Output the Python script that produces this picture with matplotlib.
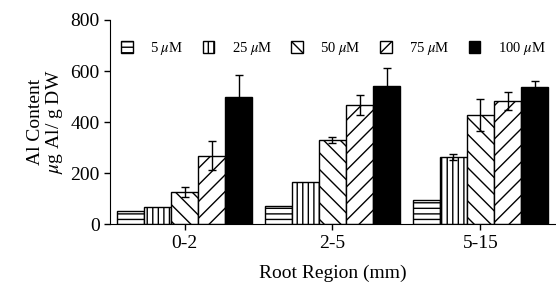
import numpy as np
import matplotlib.pyplot as plt

regions = ['0-2', '2-5', '5-15']
conc_labels = [r'5 $\mu$M', r'25 $\mu$M', r'50 $\mu$M', r'75 $\mu$M', r'100 $\mu$M']
hatches = ['---', '|||', '\\\\', '//', '']
colors = ['white', 'white', 'white', 'white', 'black']

# Al content (ug Al / g DW), one list per concentration, across root regions
al_5 = [53, 73, 95]
al_25 = [69, 166, 265]
al_50 = [125, 330, 428]
al_75 = [269, 467, 484]
al_100 = [497, 542, 539]

err_5 = [0, 0, 0]
err_25 = [0, 0, 12]
err_50 = [20, 12, 62]
err_75 = [57, 40, 35]
err_100 = [88, 70, 22]

values = [al_5, al_25, al_50, al_75, al_100]
errors = [err_5, err_25, err_50, err_75, err_100]

plt.rcParams['font.family'] = ['Liberation Serif', 'DejaVu Serif']
plt.rcParams['mathtext.fontset'] = 'stix'
plt.rcParams['hatch.linewidth'] = 1.0

fig = plt.figure(figsize=(5.56, 2.93), dpi=100)
ax = fig.add_axes([0.198, 0.2345, 0.80, 0.6975])

x = np.arange(len(regions))
w = 0.183
for i in range(5):
    pos = x + (i - 2) * w
    ax.bar(pos, values[i], w, color=colors[i], edgecolor='black',
           hatch=hatches[i], linewidth=1.0, label=conc_labels[i])
    e = np.array(errors[i])
    m = e > 0
    ax.errorbar(pos[m], np.array(values[i])[m], yerr=e[m], fmt='none',
                ecolor='black', elinewidth=1.0, capsize=3, capthick=1.0)

ax.set_xlim(-0.503, 2.503)
ax.set_ylim(0, 800)
ax.set_yticks([0, 200, 400, 600, 800])
ax.set_xticks(x)
ax.set_xticklabels(regions)
ax.spines['top'].set_visible(False)
ax.spines['right'].set_visible(False)
ax.tick_params(axis='both', labelsize=14, length=4, width=1)
ax.set_xlabel('Root Region (mm)', fontsize=14, labelpad=9)
ax.set_ylabel('Al Content\n' + r'$\mu$g Al/ g DW', fontsize=14, linespacing=1.0)

ax.legend(loc='upper left', bbox_to_anchor=(0.025, 0.90), ncol=5, frameon=False,
          fontsize=10.5, handlelength=0.8, handleheight=0.85, columnspacing=1.3,
          handletextpad=1.2, borderaxespad=0, borderpad=0)

fig.savefig('out.png', dpi=100)
